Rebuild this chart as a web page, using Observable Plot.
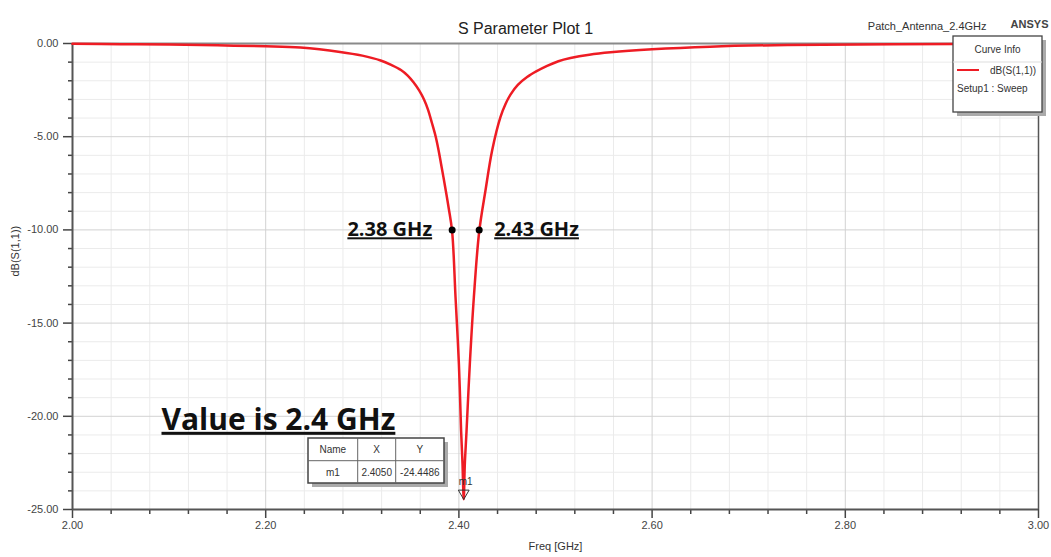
<!DOCTYPE html>
<html><head><meta charset="utf-8">
<script src="https://cdn.jsdelivr.net/npm/d3@7"></script>
<script src="https://cdn.jsdelivr.net/npm/@observablehq/plot@0.6"></script>
<style>
body{margin:0;background:#fff;}
#chart{width:1051px;height:557px;}
</style></head><body><div id="chart"></div>
<script>
// ---- data ----
const freqGHz = [2.000,2.050,2.100,2.150,2.200,2.236,2.277,2.300,2.319,2.330,2.340,2.347,2.353,2.359,2.364,2.368,2.372,2.376,2.379,2.3815,2.384,2.3895,2.393,2.3965,2.400,2.4023,2.4037,2.405,2.4061,2.4079,2.4113,2.4155,2.4210,2.4275,2.4344,2.443,2.4485,2.4534,2.461,2.4706,2.480,2.4913,2.503,2.5155,2.535,2.557,2.600,2.660,2.740,2.850,3.000];
const s11dB   = [-0.02,-0.04,-0.06,-0.10,-0.15,-0.22,-0.45,-0.65,-0.91,-1.15,-1.42,-1.72,-2.08,-2.53,-3.02,-3.55,-4.25,-5.00,-5.74,-6.45,-7.17,-8.85,-10.09,-13.6,-17.2,-20.8,-22.5,-24.45,-22.6,-20.8,-17.2,-13.6,-10.1,-7.89,-5.74,-3.95,-3.22,-2.74,-2.22,-1.80,-1.50,-1.20,-0.95,-0.78,-0.60,-0.47,-0.31,-0.17,-0.08,-0.04,-0.02];
const bandFreqGHz = [2.393, 2.421];
const bandLevelDB = [-10, -10];
const bandLabels = ["2.38 GHz", "2.43 GHz"];
const markerNames = ["m1"];
const markerFreqGHz = [2.405];
const markerDB = [-24.4486];
const xMajorTicks = [2.0, 2.2, 2.4, 2.6, 2.8, 3.0];
const yMajorTicks = [0, -5, -10, -15, -20, -25];
const xMinorTicks = [2.04,2.08,2.12,2.16,2.24,2.28,2.32,2.36,2.44,2.48,2.52,2.56,2.64,2.68,2.72,2.76,2.84,2.88,2.92,2.96];
const yMinorTicks = [-1,-2,-3,-4,-6,-7,-8,-9,-11,-12,-13,-14,-16,-17,-18,-19,-21,-22,-23,-24];
const titleText = "S Parameter Plot 1";
const projectText = "Patch_Antenna_2.4GHz";
const brandText = "ANSYS";
const xLabel = "Freq [GHz]";
const yLabel = "dB(S(1,1))";
const noteText = "Value is 2.4 GHz";
const legendTitle = "Curve Info";
const legendSeries = "dB(S(1,1))";
const legendSetup = "Setup1 : Sweep";
const tableHeader = ["Name", "X", "Y"];
const tableRow = ["m1", "2.4050", "-24.4486"];

const curve = freqGHz.map((f, i) => ({f, db: s11dB[i]}));
const band = bandFreqGHz.map((f, i) => ({f, db: bandLevelDB[i], label: bandLabels[i]}));
const markers = markerFreqGHz.map((f, i) => ({f, db: markerDB[i], name: markerNames[i]}));

const FONT = "'Liberation Sans', Arial, sans-serif";
const fmt = d => d.toFixed(2);
const RED = "#ee1c24";
const labelStyle = {x: "f", y: "db", text: "label", fontSize: 20, fontWeight: "bold", fill: "#111",
  fontFamily: "'Open Sans', sans-serif", className: "ul"};

const plot = Plot.plot({
  width: 1051, height: 557,
  marginLeft: 72, marginRight: 13, marginTop: 43, marginBottom: 48,
  style: {fontFamily: FONT, background: "#fff", overflow: "visible"},
  x: {domain: [2, 3], label: null},
  y: {domain: [-25, 0], label: null},
  marks: [
    Plot.gridX(xMinorTicks, {stroke: "#ebebeb", strokeOpacity: 1, strokeWidth: 1}),
    Plot.gridY(yMinorTicks, {stroke: "#ebebeb", strokeOpacity: 1, strokeWidth: 1}),
    Plot.gridX(xMajorTicks, {stroke: "#d2d2d2", strokeOpacity: 1, strokeWidth: 1}),
    Plot.gridY(yMajorTicks, {stroke: "#d2d2d2", strokeOpacity: 1, strokeWidth: 1}),
    Plot.ruleY([0], {stroke: "#8a8a8a", strokeWidth: 2}),
    Plot.ruleX([3], {stroke: "#555", strokeWidth: 1.5}),
    Plot.axisY(yMajorTicks, {tickSize: 9, tickPadding: 5, tickFormat: fmt, fontSize: 11, color: "#444", strokeWidth: 1.5}),
    Plot.axisY(yMinorTicks, {tickSize: 4, tickFormat: () => "", color: "#444", strokeWidth: 1.5}),
    Plot.axisX(xMajorTicks, {tickSize: 9, tickPadding: 3, tickFormat: fmt, fontSize: 11, color: "#444", strokeWidth: 1.5}),
    Plot.axisX(xMinorTicks, {tickSize: 5, tickFormat: () => "", color: "#444", strokeWidth: 1.5}),
    Plot.ruleX([2], {stroke: "#555", strokeWidth: 2}),
    Plot.ruleY([-25], {stroke: "#555", strokeWidth: 2}),
    Plot.line(curve, {x: "f", y: "db", stroke: RED, strokeWidth: 2.5, curve: "catmull-rom"}),
    Plot.dot(band, {x: "f", y: "db", r: 3.5, fill: "#000"}),
    Plot.text(band.filter(d => d.f < markerFreqGHz[0]), {...labelStyle, textAnchor: "end", dx: -20}),
    Plot.text(band.filter(d => d.f >= markerFreqGHz[0]), {...labelStyle, textAnchor: "start", dx: 15}),
    Plot.dot(markers, {x: "f", y: "db", symbol: "triangle", rotate: 180, r: 4, dy: -6, stroke: "#333", fill: "none", strokeWidth: 1}),
    Plot.text(markers, {x: "f", y: "db", text: "name", dy: -17, dx: 2, fontSize: 10, fill: "#333"}),
    Plot.text([titleText], {frameAnchor: "top", dx: -30, dy: -21, fontSize: 16, fill: "#222"}),
    Plot.text([projectText], {frameAnchor: "top-right", dx: -52, dy: -21, fontSize: 11, fill: "#333"}),
    Plot.text([brandText], {frameAnchor: "top-right", dx: 10, dy: -23, fontSize: 11, fontWeight: "bold", fill: "#444"}),
    Plot.text([xLabel], {frameAnchor: "bottom", dy: 40, fontSize: 11, fill: "#333"}),
    Plot.text([yLabel], {frameAnchor: "left", dx: -57, rotate: -90, fontSize: 11, fill: "#333"}),
    Plot.text([noteText], {frameAnchor: "top-left", dx: 89, dy: 365, textAnchor: "start", fontSize: 30, fontWeight: "bold",
      fill: "#111", fontFamily: "'Open Sans', sans-serif", className: "ul"})
  ]
});
document.getElementById("chart").appendChild(plot);

const svg = d3.select(plot);
svg.selectAll(".ul text").style("text-decoration", "underline");

// Curve info box
const lg = svg.append("g").attr("font-family", FONT).attr("font-size", 10).attr("fill", "#333").attr("text-anchor", "start");
lg.append("rect").attr("x", 957).attr("y", 40).attr("width", 89).attr("height", 76).attr("fill", "#aaa");
lg.append("rect").attr("x", 953).attr("y", 36).attr("width", 89).attr("height", 76).attr("fill", "#fff").attr("stroke", "#444").attr("stroke-width", 1.3);
lg.append("line").attr("x1", 953).attr("x2", 1042).attr("y1", 62).attr("y2", 62).attr("stroke", "#ddd");
lg.append("text").attr("x", 997.5).attr("y", 53).attr("text-anchor", "middle").text(legendTitle);
lg.append("line").attr("x1", 957).attr("x2", 979).attr("y1", 70).attr("y2", 70).attr("stroke", RED).attr("stroke-width", 2);
lg.append("text").attr("x", 990).attr("y", 74).text(legendSeries);
lg.append("text").attr("x", 957).attr("y", 92).text(legendSetup);

// marker table
const tb = svg.append("g").attr("font-family", FONT).attr("font-size", 10).attr("fill", "#333");
const tx = 308, ty = 438, tw = 136, th = 45;
const cols = [tx, 357.7, 395.7, tx + tw];
tb.append("rect").attr("x", tx + 4).attr("y", ty + 4).attr("width", tw).attr("height", th).attr("fill", "#aaa");
tb.append("rect").attr("x", tx).attr("y", ty).attr("width", tw).attr("height", th).attr("fill", "#fff").attr("stroke", "#444").attr("stroke-width", 1.5);
[cols[1], cols[2]].forEach(x => tb.append("line").attr("x1", x).attr("x2", x).attr("y1", ty).attr("y2", ty + th).attr("stroke", "#666"));
tb.append("line").attr("x1", tx).attr("x2", tx + tw).attr("y1", 460.7).attr("y2", 460.7).attr("stroke", "#666");
tableHeader.forEach((t, i) => tb.append("text").attr("x", (cols[i] + cols[i + 1]) / 2).attr("y", 453).attr("text-anchor", "middle").text(t));
tableRow.forEach((t, i) => tb.append("text").attr("x", (cols[i] + cols[i + 1]) / 2).attr("y", 476).attr("text-anchor", "middle").text(t));
</script></body></html>
